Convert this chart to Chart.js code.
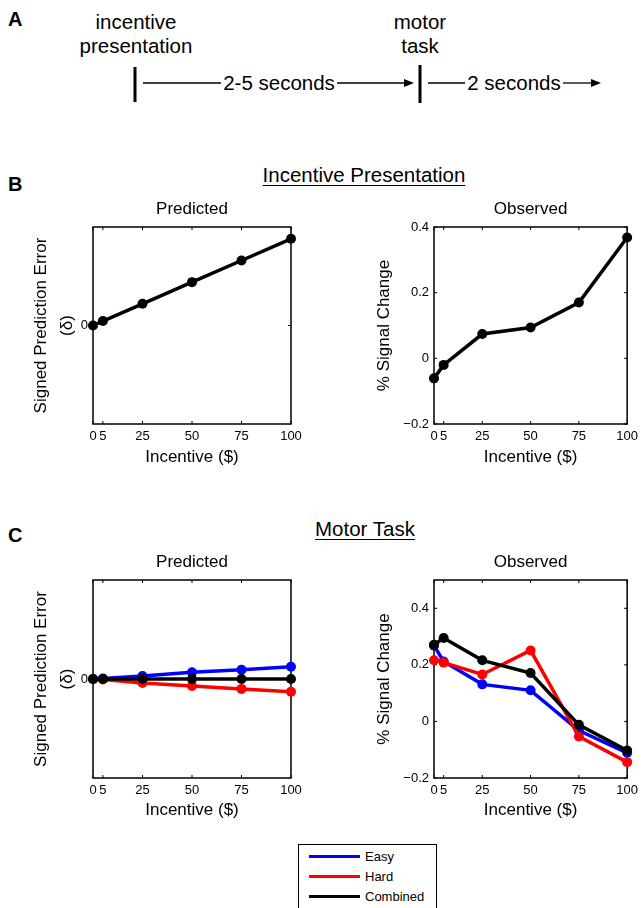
<!DOCTYPE html>
<html>
<head>
<meta charset="utf-8">
<script src="https://cdn.jsdelivr.net/npm/chart.js@4.4.1/dist/chart.umd.min.js"></script>
<style>
body { margin: 0; width: 643px; height: 908px; overflow: hidden; background: #fff; color: #000;
       font-family: "Liberation Sans", Arial, sans-serif; position: relative; }
canvas { position: absolute; }
.panel { position: absolute; left: 8px; font-weight: bold; font-size: 20px; line-height: 20px; }
.head { position: absolute; width: 400px; text-align: center; font-size: 20.5px; line-height: 20.5px;
        text-decoration: underline; text-decoration-thickness: 1px; text-underline-offset: 3px; }
#legend { position: absolute; left: 298px; top: 844px; width: 139px; height: 80px; box-sizing: border-box;
          border: 1px solid #000; background: #fff; }
#legend .sw { position: absolute; left: 10px; width: 51px; height: 3px; }
#legend .tx { position: absolute; left: 66px; font-size: 13px; line-height: 13px; }
</style>
</head>
<body>

<svg width="643" height="130" style="position:absolute;left:0;top:0">
  <g font-family="Liberation Sans, Arial, sans-serif" font-size="20.5" text-anchor="middle" fill="#000">
    <text x="136" y="29">incentive</text>
    <text x="136" y="53">presentation</text>
    <text x="420" y="29">motor</text>
    <text x="420" y="53">task</text>
    <text x="279" y="90">2-5 seconds</text>
    <text x="514" y="90">2 seconds</text>
  </g>
  <text x="8" y="26" font-family="Liberation Sans, Arial, sans-serif" font-size="20" font-weight="bold">A</text>
  <rect x="133.5" y="67" width="3" height="35" fill="#000"/>
  <rect x="418.5" y="65" width="3" height="38" fill="#000"/>
  <g stroke="#000" stroke-width="1.3">
    <line x1="143" y1="83" x2="221" y2="83"/>
    <line x1="337" y1="83" x2="406" y2="83"/>
    <line x1="428" y1="83" x2="465" y2="83"/>
    <line x1="563" y1="83" x2="593" y2="83"/>
  </g>
  <polygon points="404,79 414,83 404,87" fill="#000"/>
  <polygon points="591,79 601,83 591,87" fill="#000"/>
</svg>

<div class="panel" style="top:174px">B</div>
<div class="head" style="left:164px;top:165px">Incentive Presentation</div>
<div class="panel" style="top:525px">C</div>
<div class="head" style="left:165px;top:519px">Motor Task</div>

<canvas id="cuePred" width="284" height="276" style="left:28px;top:190px"></canvas>
<canvas id="cueObs" width="272" height="276" style="left:371px;top:190px"></canvas>
<canvas id="motorPred" width="284" height="276" style="left:28px;top:543px"></canvas>
<canvas id="motorObs" width="272" height="276" style="left:371px;top:543px"></canvas>

<div id="legend">
  <div class="sw" style="top:10px;background:#0000ff"></div><div class="tx" style="top:5px">Easy</div>
  <div class="sw" style="top:30px;background:#ff0000"></div><div class="tx" style="top:25px">Hard</div>
  <div class="sw" style="top:50px;background:#000000"></div><div class="tx" style="top:45px">Combined</div>
</div>

<script>
const incentives = [0, 5, 25, 50, 75, 100];
const xTicks = [0, 5, 25, 50, 75, 100];
const predTicks = [0];
const obsTicks = [-0.2, 0, 0.2, 0.4];

// incentive presentation
const cuePredicted = [0, 0.045, 0.22, 0.44, 0.66, 0.88];
const cueObserved = [-0.061, -0.020, 0.074, 0.094, 0.170, 0.368];

// motor task
const motorPredEasy = [0, 0.005, 0.03, 0.067, 0.094, 0.124];
const motorPredHard = [0, -0.005, -0.04, -0.07, -0.1, -0.128];
const motorPredCombined = [0, 0, 0, 0, 0, 0];

const motorObsEasy = [0.268, 0.212, 0.131, 0.110, -0.032, -0.111];
const motorObsHard = [0.216, 0.208, 0.166, 0.251, -0.053, -0.144];
const motorObsCombined = [0.271, 0.295, 0.216, 0.171, -0.012, -0.103];

const BLUE = '#0000ff', RED = '#ff0000', BLACK = '#000000';

Chart.defaults.font.family = '"Liberation Sans", Arial, sans-serif';
Chart.defaults.color = '#000';

// matlab style box with inward ticks on all four sides
const boxTicks = {
    id: 'boxTicks',
    beforeDatasetsDraw(chart) {
        const { ctx, chartArea: a, scales: { x, y } } = chart;
        ctx.save();
        ctx.strokeStyle = '#000';
        ctx.lineWidth = 1.5;
        ctx.strokeRect(a.left, a.top, a.right - a.left, a.bottom - a.top);
        ctx.lineWidth = 1;
        ctx.beginPath();
        x.ticks.forEach(t => {
            const px = x.getPixelForValue(t.value);
            ctx.moveTo(px, a.bottom); ctx.lineTo(px, a.bottom - 3);
            ctx.moveTo(px, a.top); ctx.lineTo(px, a.top + 3);
        });
        y.ticks.forEach(t => {
            const py = y.getPixelForValue(t.value);
            ctx.moveTo(a.left, py); ctx.lineTo(a.left + 3, py);
            ctx.moveTo(a.right, py); ctx.lineTo(a.right - 3, py);
        });
        ctx.stroke();
        ctx.restore();
    }
};

function series(values, color, order) {
    return {
        data: incentives.map((v, i) => ({ x: v, y: values[i] })),
        borderColor: color,
        backgroundColor: color,
        pointBackgroundColor: color,
        pointBorderWidth: 0,
        pointRadius: 5,
        borderWidth: 3.5,
        tension: 0,
        clip: false,
        order: order
    };
}

function tickLabel(v) {
    if (v === 0) return '0';
    return (v < 0 ? '\u2212' : '') + Math.abs(v);
}

function makeChart(id, cfg) {
    return new Chart(document.getElementById(id), {
        type: 'line',
        data: { datasets: cfg.datasets },
        options: {
            responsive: false,
            animation: false,
            events: [],
            layout: { padding: { left: 0, top: 0, right: cfg.padRight, bottom: 0 } },
            plugins: {
                legend: { display: false },
                tooltip: { enabled: false },
                title: {
                    display: true, text: cfg.title, fullSize: false, color: '#000',
                    font: { size: 17, weight: 'normal', lineHeight: 1 },
                    padding: { top: 10.5, bottom: 9.5 }
                }
            },
            scales: {
                x: {
                    type: 'linear', min: 0, max: 100,
                    afterBuildTicks: s => { s.ticks = xTicks.map(v => ({ value: v })); },
                    afterFit: s => { s.height = cfg.xHeight; },
                    grid: { display: false, drawTicks: false },
                    border: { display: false },
                    ticks: { autoSkip: false, maxRotation: 0, color: '#000', font: { size: 13 }, padding: 5,
                             callback: v => String(v) },
                    title: { display: true, text: 'Incentive ($)', color: '#000',
                             font: { size: 17, lineHeight: 1 }, padding: 0 }
                },
                y: {
                    type: 'linear', min: cfg.yMin, max: cfg.yMax,
                    afterBuildTicks: s => { s.ticks = cfg.yTicks.map(v => ({ value: v })); },
                    afterFit: s => { s.width = cfg.yWidth; },
                    grid: { display: false, drawTicks: false },
                    border: { display: false },
                    ticks: { color: '#000', font: { size: 13 }, padding: 5, callback: tickLabel },
                    title: { display: true, text: cfg.yTitle, color: '#000',
                             font: { size: 17, lineHeight: 26 / 17 }, padding: 0 }
                }
            }
        },
        plugins: [boxTicks]
    });
}

const predTitle = ['Signed Prediction Error', '(\u03b4)'];
const obsTitle = '% Signal Change';

makeChart('cuePred', {
    title: 'Predicted', yMin: -1, yMax: 1, yTicks: predTicks, yTitle: predTitle,
    yWidth: 65, xHeight: 42, padRight: 21,
    datasets: [series(cuePredicted, BLACK, 0)]
});

makeChart('cueObs', {
    title: 'Observed', yMin: -0.2, yMax: 0.4, yTicks: obsTicks, yTitle: obsTitle,
    yWidth: 63, xHeight: 42, padRight: 11,
    datasets: [series(cueObserved, BLACK, 0)]
});

makeChart('motorPred', {
    title: 'Predicted', yMin: -1, yMax: 1, yTicks: predTicks, yTitle: predTitle,
    yWidth: 65, xHeight: 41, padRight: 21,
    datasets: [
        series(motorPredEasy, BLUE, 2),
        series(motorPredHard, RED, 1),
        series(motorPredCombined, BLACK, 0)
    ]
});

makeChart('motorObs', {
    title: 'Observed', yMin: -0.2, yMax: 0.5, yTicks: obsTicks, yTitle: obsTitle,
    yWidth: 63, xHeight: 41, padRight: 11,
    datasets: [
        series(motorObsEasy, BLUE, 2),
        series(motorObsHard, RED, 1),
        series(motorObsCombined, BLACK, 0)
    ]
});
</script>
</body>
</html>
